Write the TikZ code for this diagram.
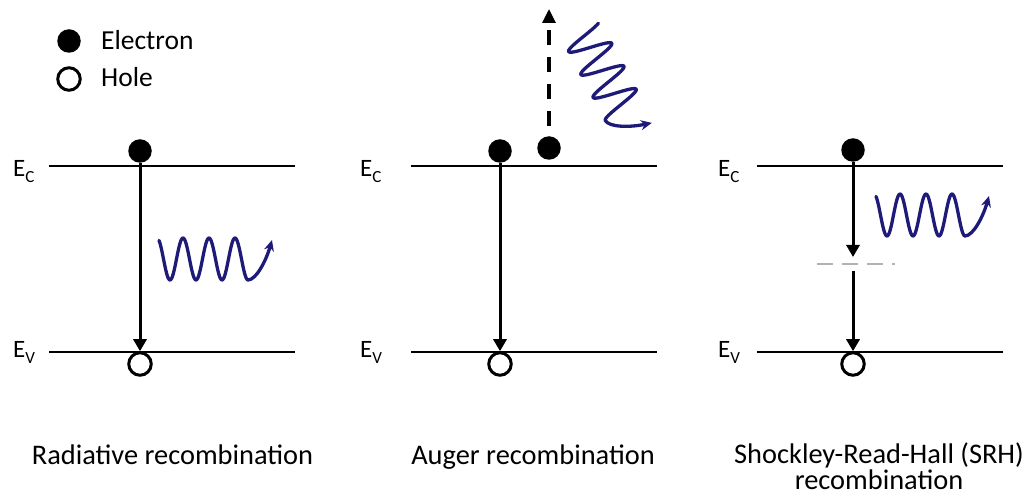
\documentclass[tikz,border=0pt]{standalone}
\usepackage{fontspec}
\setmainfont{Carlito}
\usetikzlibrary{arrows.meta}
\definecolor{wavecol}{RGB}{30,26,120}
\definecolor{trapgray}{RGB}{178,178,178}
\newcommand{\bandlbl}[1]{E\raisebox{-6pt}{\fontsize{17}{18}\selectfont #1}}
\begin{document}
\begin{tikzpicture}[x=1pt,y=-1pt,
  electron/.style={circle,fill=black,inner sep=0pt,minimum size=23.5pt},
  hole/.style={circle,draw=black,line width=3pt,fill=white,inner sep=0pt,minimum size=22.5pt},
  band/.style={line width=2pt},
  arr/.style={line width=3pt,-{Triangle[width=13pt,length=12pt]}},
  lvltxt/.style={anchor=base west,inner sep=0pt,font=\fontsize{25}{29}\selectfont},
  legtxt/.style={anchor=base west,inner sep=0pt,font=\fontsize{27.5}{31}\selectfont},
  captxt/.style={anchor=base,inner sep=0pt,font=\fontsize{28.4}{32}\selectfont},
  photon/.pic={
    \draw[wavecol,line width=3.3pt,line cap=round,line join=round,-{Stealth[length=11pt,width=10pt]}]
      plot[domain=0:89,samples=120] (\x,{21*cos(13.8462*(\x-11))})
      .. controls (97,21) and (107,2) .. (113,-19);
  }
]
\useasboundingbox (0,0) rectangle (1028,502);

% legend
\node[electron] (le) at (69,41) {};
\node[legtxt] (let) at (101,50) {Electron};
\node[hole] (lh) at (69,79) {};
\node[legtxt] (lht) at (101,87) {Hole};

% ---------- panel 1: radiative ----------
\coordinate (c1L) at (49,166);  \coordinate (c1R) at (295,166);
\coordinate (v1L) at (49,352);  \coordinate (v1R) at (295,352);
\draw[band] (c1L) -- (c1R);
\draw[band] (v1L) -- (v1R);
\node[lvltxt] (ec1) at (13,176.5) {\bandlbl{C}};
\node[lvltxt] (ev1) at (13,358) {\bandlbl{V}};
\node[electron] (e1) at (140,151) {};
\node[hole] (h1) at (140,364) {};
\draw[arr] (e1) -- (h1);
\pic (w1) at (159,259) {photon};
\node[captxt] (cap1) at (172.5,464) {Radiative recombination};

% ---------- panel 2: Auger ----------
\coordinate (c2L) at (411,166);  \coordinate (c2R) at (657,166);
\coordinate (v2L) at (411,352);  \coordinate (v2R) at (657,352);
\draw[band] (c2L) -- (c2R);
\draw[band] (v2L) -- (v2R);
\node[lvltxt] (ec2) at (360,176.5) {\bandlbl{C}};
\node[lvltxt] (ev2) at (360,358) {\bandlbl{V}};
\node[electron] (e2) at (500,151) {};
\node[electron] (e2b) at (549,148) {};
\node[hole] (h2) at (500,364) {};
\draw[arr] (e2) -- (h2);
\coordinate (aug) at (549,9);
\draw[line width=3.2pt,dash pattern=on 15pt off 12pt,dash phase=17pt,
      -{Triangle[width=13pt,length=14pt]}] (e2b) -- (aug);
\pic[rotate=-62] (w2) at (582,32) {photon};
\node[captxt] (cap2) at (533,464) {Auger recombination};

% ---------- panel 3: SRH ----------
\coordinate (c3L) at (757,166);  \coordinate (c3R) at (1003,166);
\coordinate (v3L) at (757,352);  \coordinate (v3R) at (1003,352);
\draw[band] (c3L) -- (c3R);
\draw[band] (v3L) -- (v3R);
\node[lvltxt] (ec3) at (718,176.5) {\bandlbl{C}};
\node[lvltxt] (ev3) at (718,358) {\bandlbl{V}};
\node[electron] (e3) at (853,150) {};
\node[hole] (h3) at (853,364) {};
\coordinate (trapL) at (817,264); \coordinate (trapR) at (895,264);
\draw[trapgray,line width=2pt,dash pattern=on 16pt off 9pt] (trapL) -- (trapR);
\coordinate (t3a) at (853,257); \coordinate (t3b) at (853,271);
\draw[arr] (e3) -- (t3a);
\draw[arr] (t3b) -- (h3);
\pic (w3) at (876,215) {photon};
\node[captxt] (cap3a) at (879,463) {Shockley-Read-Hall (SRH)};
\node[captxt] (cap3b) at (879,489) {recombination};
\end{tikzpicture}
\end{document}
